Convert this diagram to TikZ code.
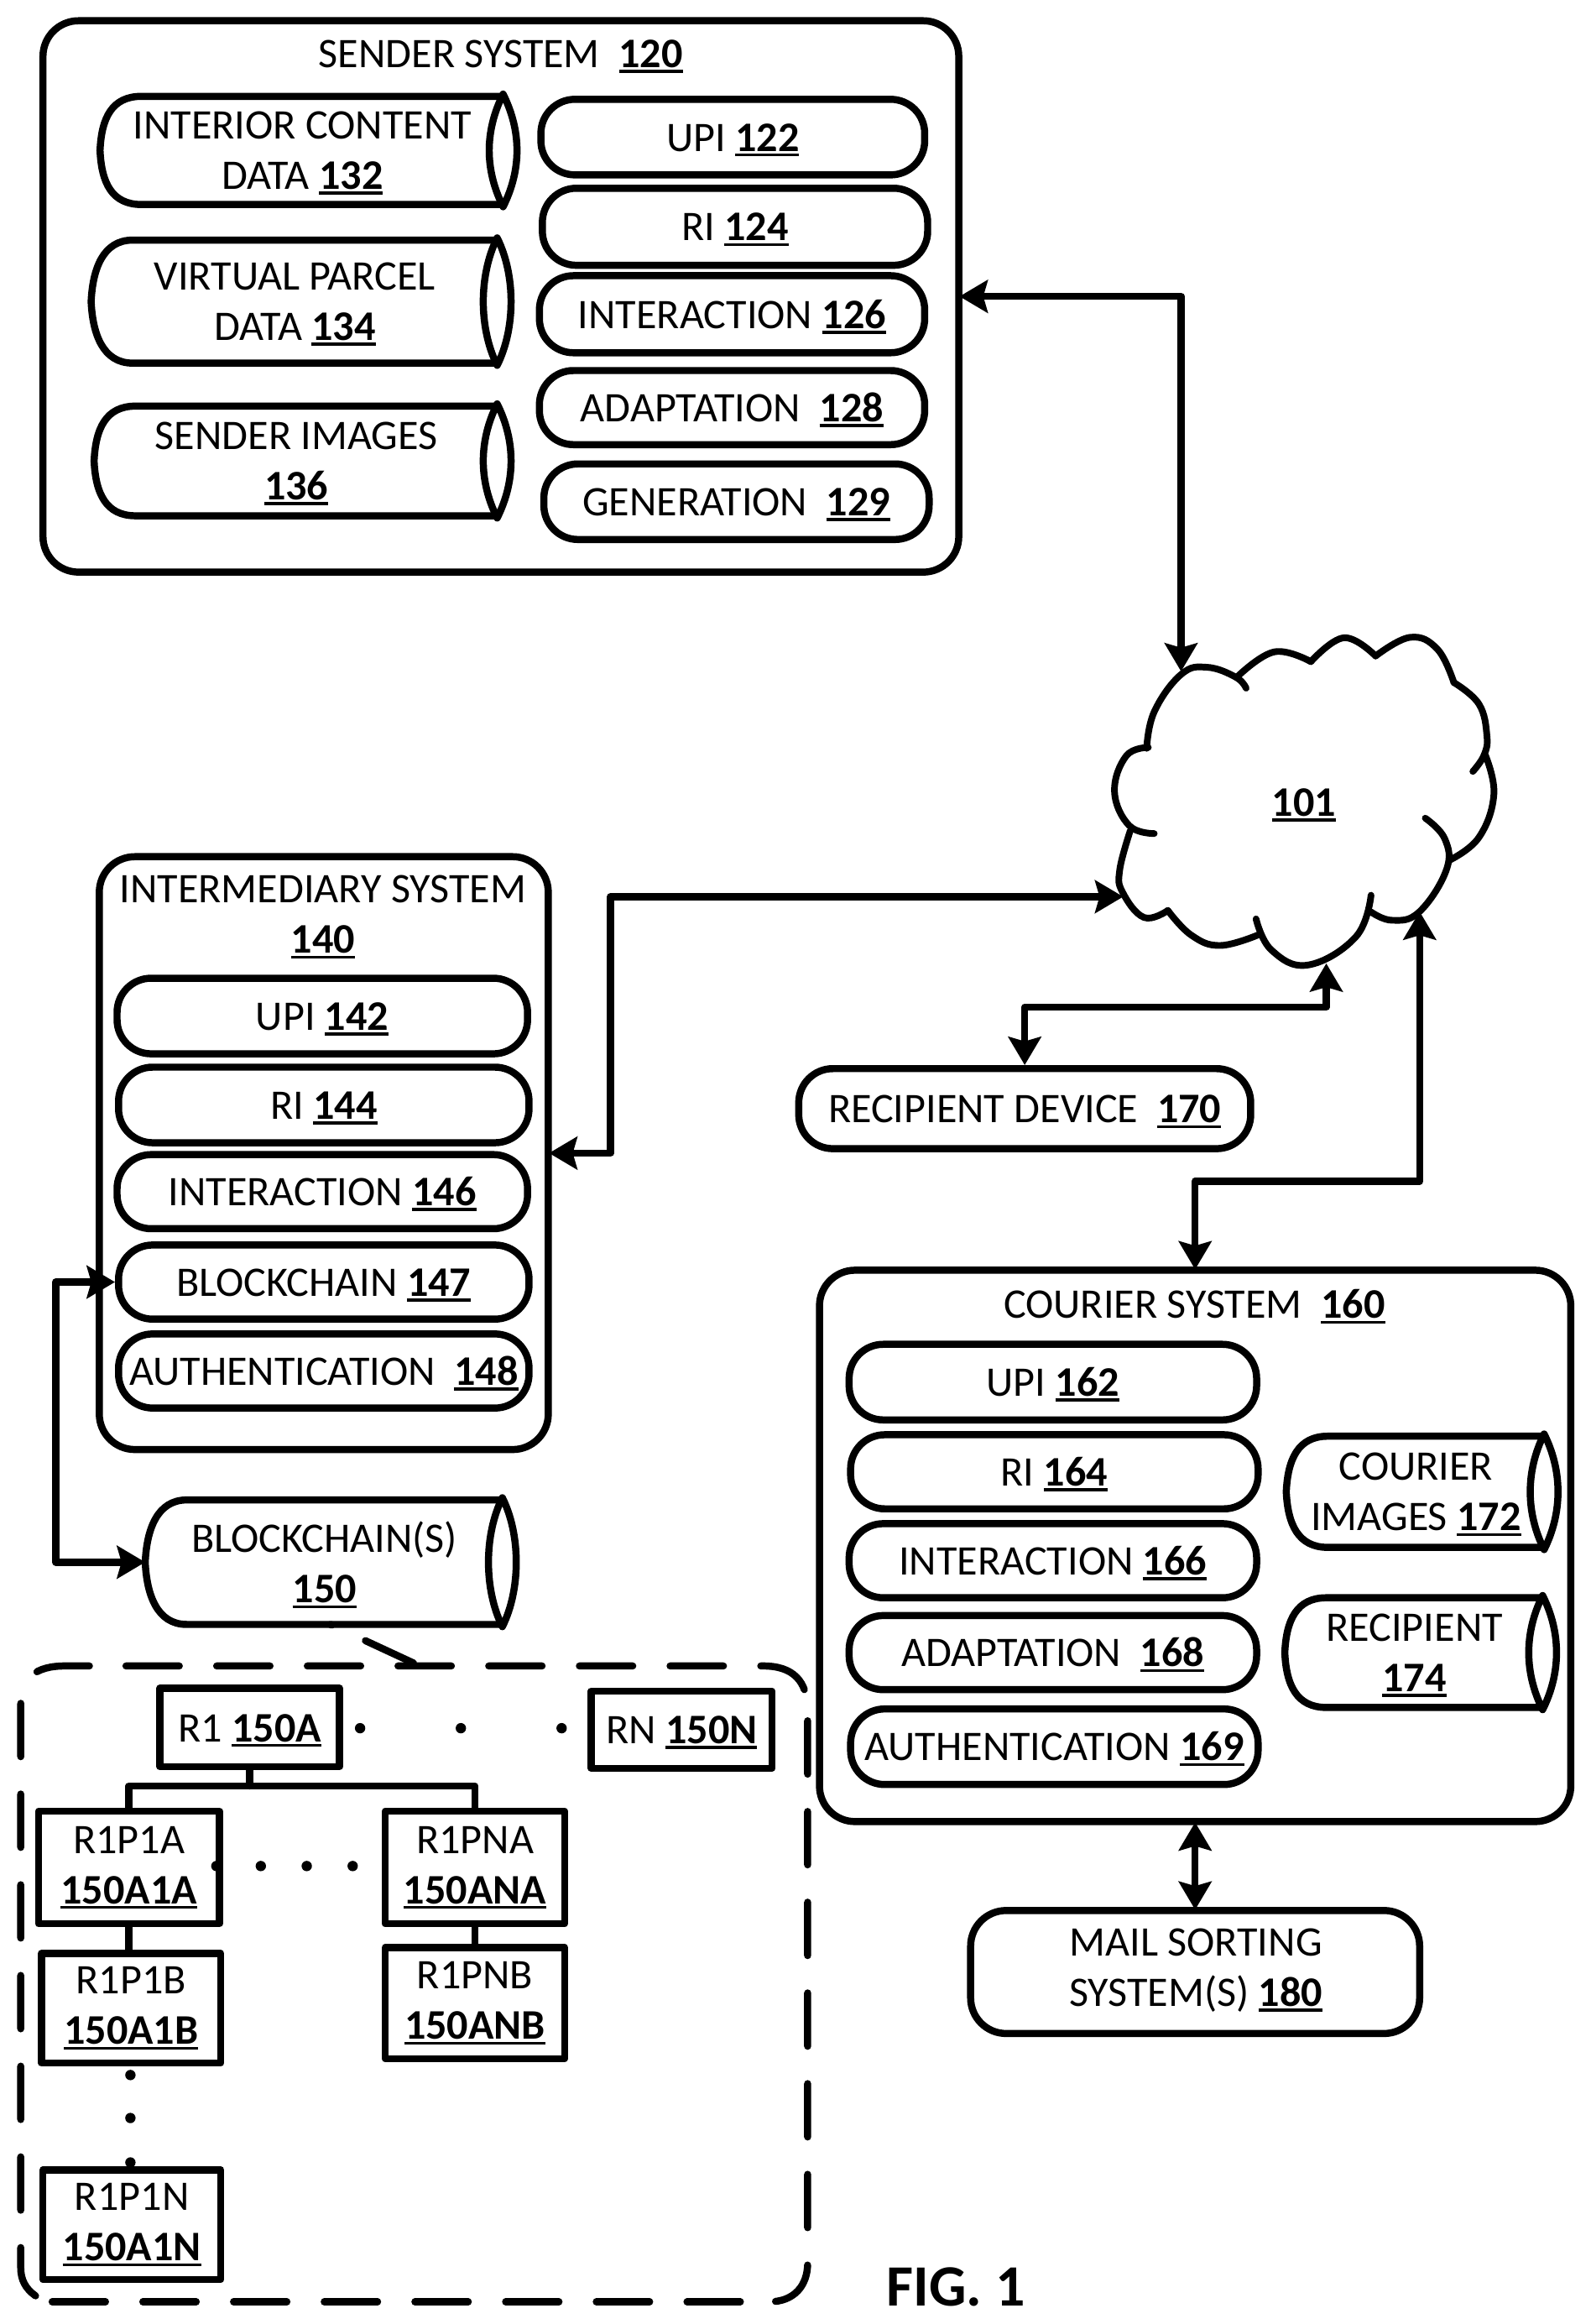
\documentclass[tikz,border=0pt]{standalone}
\usepackage{fontspec}
\setmainfont{Carlito}
\usetikzlibrary{arrows.meta}

\newcommand{\refnum}[1]{\setbox0\hbox{\bfseries #1}\leavevmode\rlap{\rule[-3.6pt]{\wd0}{2pt}}\box0}
\newcommand{\dn}[1]{\raisebox{-3.5pt}{#1}}

\tikzset{
    ln/.style={line width=4.8pt, line join=round, line cap=round},
    txt/.style={font=\fontsize{28.4}{34}\selectfont, align=center, inner sep=0pt,
        execute at begin node={\rule[-7pt]{0pt}{33pt}}, execute at end node={\rule[-7pt]{0pt}{33pt}}},
    sz/.style 2 args={minimum width=#1pt, minimum height=#2pt},
    sysbox/.style={txt, ln, draw, rounded corners=24pt, outer sep=0.5pt},
    pillbox/.style={txt, ln, draw, rounded corners=23pt},
    recbox/.style={txt, ln, draw, line cap=butt},
    drumbox/.style={outer sep=0pt, inner sep=0pt},
    dashln/.style={ln, dash pattern=on 36pt off 25.2pt},
    link/.style={ln, {Stealth[length=19pt,width=22pt,inset=3pt]}-{Stealth[length=19pt,width=22pt,inset=3pt]}},
    cloudln/.style={ln, line width=4.5pt, smooth, tension=0.7},
}

\newcommand{\drum}[6]{
    \node[drumbox, sz={#4}{#5}] (#1) at (#2,#3) {};
    \node[txt] (#1t) at ([xshift=-4pt,yshift=-3.5pt]#1.center) {#6};
    \draw[ln] ([xshift=-9pt]#1.north east) -- ([xshift=28pt]#1.north west)
        .. controls +(-20,0) and +(1,-22) .. (#1.west)
        .. controls +(1,22) and +(-20,0) .. ([xshift=28pt]#1.south west)
        -- ([xshift=-9pt]#1.south east);
    \draw[ln] ([xshift=-9pt,yshift=1.5pt]#1.north east)
        .. controls +(12.5,25) and +(12.5,-25) .. ([xshift=-9pt,yshift=-1.5pt]#1.south east)
        .. controls +(-12.5,-25) and +(-12.5,25) .. cycle;
}

\begin{document}
\begin{tikzpicture}[x=1pt,y=-1pt]
    \useasboundingbox (0,0) rectangle (1073.6,1568);

    % sender
    \node[sysbox, sz={618}{372}] (snd) at (338,200) {};
    \node[txt] (sndt) at (338,36) {SENDER SYSTEM~~\refnum{120}};
    \drum{s132}{208}{101.5}{281}{73}{INTERIOR CONTENT\\DATA \refnum{132}}
    \drum{s134}{203}{203.5}{283}{83}{VIRTUAL PARCEL\\DATA \refnum{134}}
    \drum{s136}{204}{311}{281}{74}{SENDER IMAGES\\\refnum{136}}
    \node[pillbox, sz={259}{51}] (s122) at (494.5,92.5) {UPI \refnum{122}};
    \node[pillbox, sz={260}{52}] (s124) at (496,153) {RI \refnum{124}};
    \node[pillbox, sz={260}{52}] (s126) at (494,212) {INTERACTION \refnum{126}};
    \node[pillbox, sz={260}{50}] (s128) at (494,275) {ADAPTATION~~\refnum{128}};
    \node[pillbox, sz={260}{51}] (s129) at (497,338.5) {GENERATION~~\refnum{129}};

    % network
    \node[txt] (net) at (880,541) {\refnum{101}};
    \draw[cloudln] plot coordinates {(773.8,504.9) (779,480) (797.2,454.9) (814.5,450.2) (833.8,456.8) (840.9,464.3)};
    \draw[cloudln] plot coordinates {(835.8,455.8) (860,439.8) (884.6,446.4)};
    \draw[cloudln] plot coordinates {(884.6,446.4) (906.9,430.3) (928.3,442.6)};
    \draw[cloudln] plot coordinates {(928.3,442.6) (951.6,430) (970,438) (981.1,460.5)};
    \draw[cloudln] plot coordinates {(981.1,460.5) (998,475) (1003.4,496.4) (1001.4,509.6) (993.9,520.5)};
    \draw[cloudln] plot coordinates {(1002.4,509.6) (1008.1,536) (998,565) (978.1,580.4)};
    \draw[cloudln] plot coordinates {(961.8,552) (975,566) (976,587) (957.7,615.3) (939.4,620.9) (925.2,615.3)};
    \draw[cloudln] plot coordinates {(925.2,604) (915,632) (882.6,651.1) (858,641) (847.6,620)};
    \draw[cloudln] plot coordinates {(850,630.4) (823.6,637.9) (804,631) (788.1,614.3)};
    \draw[cloudln] plot coordinates {(788.1,614.3) (772,619) (757.6,602.1) (755.6,587) (762.7,560.5)};
    \draw[cloudln] plot coordinates {(778.9,562.4) (762,557) (752.1,534.1) (760,510) (774.9,504.3)};
    \coordinate (nettop) at (797,453);
    \coordinate (netleft) at (758,605);
    \coordinate (netlow) at (895,650);
    \coordinate (netright) at (958,615);

    % intermediary
    \node[sysbox, sz={303}{400}] (imd) at (218.5,778) {};
    \node[txt] (imdt) at (218,620.5) {INTERMEDIARY SYSTEM\\\refnum{140}};
    \node[pillbox, sz={277}{51}] (i142) at (217.5,685.5) {UPI \refnum{142}};
    \node[pillbox, sz={277}{51}] (i144) at (218.5,745.5) {RI \refnum{144}};
    \node[pillbox, sz={277}{50}] (i146) at (217.5,804) {INTERACTION \refnum{146}};
    \node[pillbox, sz={277}{50}] (i147) at (218.5,865) {BLOCKCHAIN \refnum{147}};
    \node[pillbox, sz={277}{50}] (i148) at (218.5,925) {AUTHENTICATION~~\refnum{148}};

    % recipient, courier, mail
    \node[pillbox, sz={305}{54}] (rcp) at (691.5,748) {RECIPIENT DEVICE~~\refnum{170}};
    \node[sysbox, sz={507}{372}] (cur) at (806.5,1043) {};
    \node[txt] (curt) at (806,880) {COURIER SYSTEM~~\refnum{160}};
    \node[pillbox, sz={275}{51}] (c162) at (710.5,932.5) {UPI \refnum{162}};
    \node[pillbox, sz={275}{50}] (c164) at (711.5,993) {RI \refnum{164}};
    \node[pillbox, sz={275}{50}] (c166) at (710.5,1053) {INTERACTION \refnum{166}};
    \node[pillbox, sz={275}{50}] (c168) at (710.5,1115) {ADAPTATION~~\refnum{168}};
    \node[pillbox, sz={275}{51}] (c169) at (711.5,1178.5) {AUTHENTICATION \refnum{169}};
    \drum{c172}{959.5}{1006.5}{183}{75}{COURIER\\IMAGES \refnum{172}}
    \drum{c174}{958.5}{1115}{183}{74}{RECIPIENT\\\refnum{174}}
    \node[sysbox, sz={303}{83}] (mail) at (806.5,1330.5) {};
    \node[txt] (mailt) at (807,1331) {MAIL SORTING\\SYSTEM(S) \refnum{180}};

    % blockchain
    \drum{bc}{223}{1054}{250}{84}{BLOCKCHAIN(S)\\\refnum{150}}
    \draw[dashln] (85,1124) -- (515,1124) .. controls (535,1124) and (545,1134) .. (545,1154);
    \draw[dashln] (545,1161) -- (545,1527) .. controls (545,1542) and (536,1553) .. (519,1553);
    \draw[dashln] (499.6,1553) -- (35,1553);
    \draw[dashln] (24,1549) .. controls (17,1544) and (14,1538) .. (14,1530) -- (14,1150)
        .. controls (14,1132) and (24,1124) .. (44,1124) -- (62,1124);
    \coordinate (lead) at (279,1122);
    \draw[ln, dash pattern=on 1pt off 25pt on 40pt] (bc.south) -- (lead);

    \node[recbox, sz={121}{53}] (r1) at (168.5,1165.5) {R1 \refnum{150A}};
    \node[recbox, sz={122}{52}] (rn) at (460,1167) {RN \refnum{150N}};
    \node[recbox, sz={122}{76}] (p1a) at (87,1260) {\dn{R1P1A}\\\dn{\refnum{150A1A}}};
    \node[recbox, sz={121}{76}] (pna) at (320.5,1260) {\dn{R1PNA}\\\dn{\refnum{150ANA}}};
    \node[recbox, sz={121}{74}] (p1b) at (88.5,1355) {\dn{R1P1B}\\\dn{\refnum{150A1B}}};
    \node[recbox, sz={121}{75}] (pnb) at (320.5,1351.5) {\dn{R1PNB}\\\dn{\refnum{150ANB}}};
    \node[recbox, sz={120}{74}] (p1n) at (89,1501) {\dn{R1P1N}\\\dn{\refnum{150A1N}}};

    \begin{scope}[
            every node/.style={circle, fill, inner sep=0pt, minimum size=7pt}
        ]
        \node (d1) at (243,1166) {};
        \node (d2) at (311,1166) {};
        \node (d3) at (379,1166) {};
        \node (d4) at (146,1259) {};
        \node (d5) at (176,1259) {};
        \node (d6) at (207,1259) {};
        \node (d7) at (238,1259) {};
        \node (d8) at (88,1400) {};
        \node (d9) at (88,1429) {};
        \node (d10) at (88,1459) {};
    \end{scope}

    \coordinate (fork) at (168.5,1205);
    \draw[ln] (r1.south) -- (fork);
    \draw[ln] (fork) -| (p1a.north);
    \draw[ln] (fork) -| (pna.north);
    \draw[ln] (p1a.south) -- (p1a.south |- p1b.north);
    \draw[ln] (pna.south) -- (pnb.north);

    % connectors
    \draw[link] (snd.east) -| (nettop);
    \draw[link] (imd.east) -- ++(41.5,0) |- (netleft);
    \draw[link] (rcp.north) -- ++(0,-39) -| (netlow);
    \draw[link] (cur.north) -- ++(0,-59.5) -| (netright);
    \draw[link] (cur.south) -- (mail.north);
    \draw[link] (i147.west) -- ++(-40,0) |- (bc.west);

    \node[inner sep=0pt, font=\fontsize{39.5}{40}\selectfont\bfseries] (fig) at (645,1543) {FIG. 1};
\end{tikzpicture}
\end{document}
